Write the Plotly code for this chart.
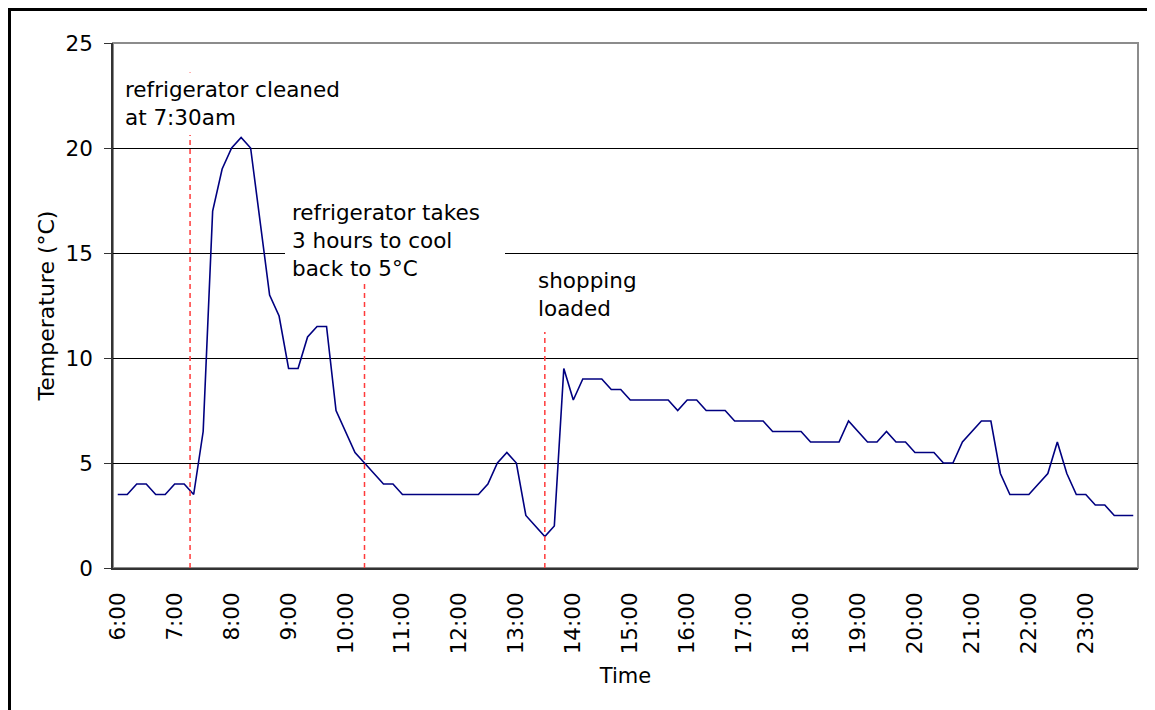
import plotly.graph_objects as go

# ---- data -------------------------------------------------------------
# 10-minute readings from 6:00 to 23:50
TIMES = [f"{h}:{m:02d}" for h in range(6, 24) for m in range(0, 60, 10)]
TEMPS = [
    3.5, 3.5, 4, 4, 3.5, 3.5, 4, 4, 3.5,
    6.5, 17, 19, 20, 20.5, 20,
    16.5, 13, 12, 9.5, 9.5, 11, 11.5, 11.5,
    7.5, 6.5, 5.5, 5, 4.5, 4, 4,
    3.5, 3.5, 3.5, 3.5, 3.5, 3.5, 3.5, 3.5, 3.5,
    4, 5, 5.5, 5, 2.5, 2, 1.5, 2,
    9.5, 8, 9, 9, 9, 8.5, 8.5, 8, 8, 8, 8, 8,
    7.5, 8, 8, 7.5, 7.5, 7.5, 7, 7, 7, 7,
    6.5, 6.5, 6.5, 6.5, 6, 6, 6, 6,
    7, 6.5, 6, 6, 6.5, 6, 6, 5.5, 5.5, 5.5, 5, 5,
    6, 6.5, 7, 7, 4.5, 3.5, 3.5, 3.5, 4, 4.5,
    6, 4.5, 3.5, 3.5, 3, 3, 2.5, 2.5, 2.5,
]
HOUR_TICKS = [f"{h}:00" for h in range(6, 24)]
Y_TICKS = [0, 5, 10, 15, 20, 25]

# event markers (category index position, top temperature of dashed line)
EVENT_X = [7.62, 26, 45]
EVENT_TOP = [23.6, 15, 12]
EVENT_TEXT = [
    "refrigerator cleaned<br>at 7:30am",
    "refrigerator takes<br>3 hours to cool<br>back to 5°C",
    "shopping<br>loaded",
]

# ---- layout geometry (page pixels; the page body has an 8px margin) ---
OFF = 8
PAGE_W, PAGE_H = 1155, 710
W, H = PAGE_W - OFF, PAGE_H - OFF
L, R, T, B = 113, 1138, 43, 568
PW, PH = R - L, B - T


def px(x):
    return (x - L) / PW


def py(y):
    return (B - y) / PH


FONT = "DejaVu Sans, Verdana, sans-serif"
FS = 21.5

fig = go.Figure()
fig.add_trace(go.Scatter(
    x=TIMES, y=TEMPS, mode="lines",
    line=dict(color="#000080", width=1.6),
    hoverinfo="skip", showlegend=False,
))

shapes = []
# plot border (gray) between gridlines and traces
shapes.append(dict(type="rect", xref="paper", yref="paper", x0=0, x1=1, y0=0, y1=1,
                   line=dict(color="#8c8c8c", width=2), layer="between"))
# red dashed event lines
for ex, et in zip(EVENT_X, EVENT_TOP):
    shapes.append(dict(type="line", xref="x", yref="y", x0=ex, x1=ex, y0=0, y1=et,
                       line=dict(color="#ff3b3b", width=1.5, dash="5px,4px"), layer="above"))
# white text boxes
boxes = [(118, 352, 73, 135), (285, 505, 195, 284), (531, 642, 262, 332)]
for x0, x1, y0, y1 in boxes:
    shapes.append(dict(type="rect", xref="paper", yref="paper",
                       x0=px(x0), x1=px(x1), y0=py(y1), y1=py(y0),
                       fillcolor="white", line=dict(width=0), layer="above"))
# outer chart frame (left and top edges of the figure)
shapes.append(dict(type="rect", xref="paper", yref="paper",
                   x0=px(OFF + 1.5), x1=px(1200), y0=py(760), y1=py(OFF + 1.5),
                   line=dict(color="black", width=3), fillcolor="rgba(0,0,0,0)", layer="above"))

annotations = []
text_pos = [(124, 103), (291, 241), (537, 294)]
for (tx, ty), txt in zip(text_pos, EVENT_TEXT):
    annotations.append(dict(
        text=txt, xref="paper", yref="paper", x=px(tx), y=py(ty),
        xanchor="left", yanchor="middle", align="left", showarrow=False,
        borderpad=0, font=dict(family=FONT, size=FS, color="black"),
    ))

fig.update_layout(
    width=W, height=H,
    margin=dict(l=L - OFF, r=PAGE_W - R, t=T - OFF, b=PAGE_H - B, pad=0),
    paper_bgcolor="white", plot_bgcolor="white",
    font=dict(family=FONT, size=FS, color="black"),
    shapes=shapes, annotations=annotations,
    showlegend=False,
    xaxis=dict(
        type="category", categoryorder="array", categoryarray=TIMES,
        range=[-0.5, len(TIMES) - 0.5],
        tickmode="array", tickvals=HOUR_TICKS, ticktext=HOUR_TICKS,
        tickangle=-90, ticks="", showgrid=False, zeroline=False,
        showline=True, linecolor="#333333", linewidth=1.5,
        ticklabelstandoff=14,
        tickfont=dict(family=FONT, size=FS, color="black"),
        title=dict(text="Time", font=dict(family=FONT, size=21, color="black"), standoff=15),
    ),
    yaxis=dict(
        range=[0, 25], tickmode="array", tickvals=Y_TICKS,
        ticks="outside", ticklen=7, tickcolor="#333333", tickwidth=1,
        showgrid=True, gridcolor="black", gridwidth=1, zeroline=False,
        showline=True, linecolor="#333333", linewidth=1.5,
        ticklabelstandoff=7,
        tickfont=dict(family=FONT, size=FS, color="black"),
        title=dict(text="Temperature (°C)", font=dict(family=FONT, size=22, color="black"), standoff=5),
    ),
)

fig.write_html("out.html")
